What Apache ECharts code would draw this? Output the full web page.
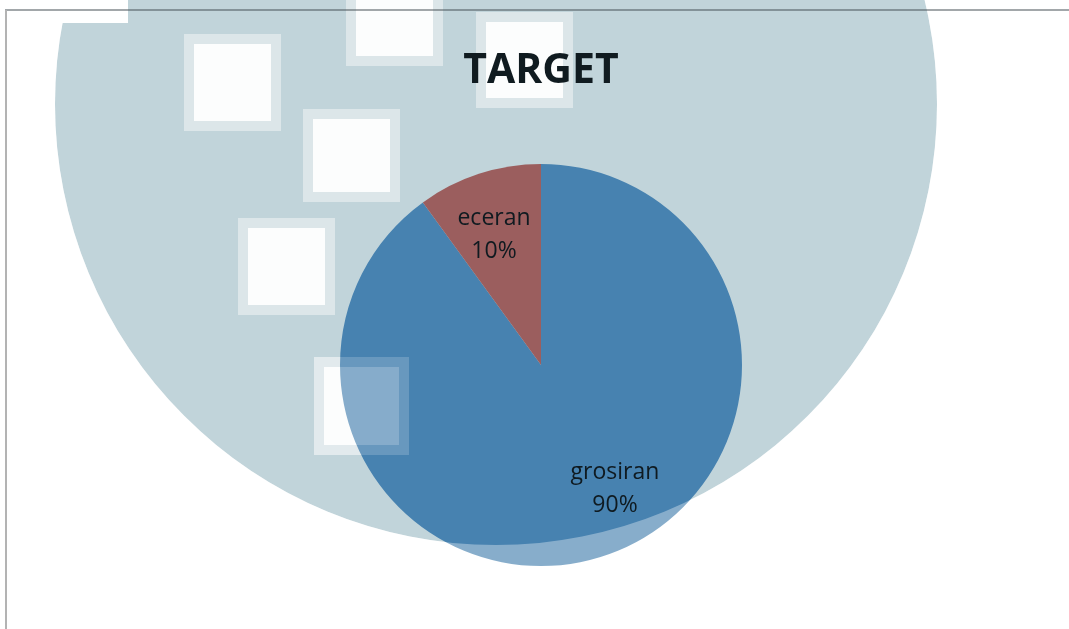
<!DOCTYPE html>
<html lang="en">
<head>
	<meta charset="UTF-8">
	<title>TARGET</title>
	<style>
		html, body { margin: 0; padding: 0; background: #fff; }
	</style>
</head>
<body>
	<div id="pie_one" style="width:1069px;height:629px;"></div>
</body>
</html>
<script src="https://cdn.jsdelivr.net/npm/echarts@6/dist/echarts.min.js"></script>
<script>
	// data
	var names = ['grosiran', 'eceran'];
	var values = [90, 10];
	var colors = ['#4782b0', '#9b5e5e'];
	// label nudge, to sit the labels where the original had them
	var labelShift = [[42, 26], [-15, -32]];

	// watermark squares: x, y, w, h
	var squares = [
		[184, 34, 97, 97],
		[303, 109, 97, 93],
		[238, 218, 97, 97],
		[346, -10, 97, 76],
		[476, 12, 97, 96],
		[314, 357, 95, 98]
	];

	function watermark(){
		var els = [];
		els.push({ type: 'circle', z: 0, silent: true,
			shape: { cx: 496, cy: 104, r: 441 }, style: { fill: '#c1d4da' } });
		els.push({ type: 'rect', z: 0, silent: true,
			shape: { x: 40, y: 0, width: 88, height: 23 }, style: { fill: '#ffffff' } });
		for (var i = 0; i < squares.length; i++) {
			var s = squares[i];
			els.push({ type: 'rect', z: 0, silent: true,
				shape: { x: s[0], y: s[1], width: s[2], height: s[3] }, style: { fill: '#dce6e9' } });
			els.push({ type: 'rect', z: 0, silent: true,
				shape: { x: s[0] + 10, y: s[1] + 10, width: s[2] - 20, height: s[3] - 20 }, style: { fill: '#fcfdfd' } });
		}
		// lighten layer over the pie (outside the big circle, and the last square)
		els.push({ type: 'ring', z: 20, silent: true,
			shape: { cx: 496, cy: 104, r: 1600, r0: 441 }, style: { fill: 'rgba(255,255,255,0.35)' } });
		var f = squares[5];
		els.push({ type: 'rect', z: 20, silent: true,
			shape: { x: f[0], y: f[1], width: f[2], height: f[3] }, style: { fill: 'rgba(255,255,255,0.18)' } });
		els.push({ type: 'rect', z: 20, silent: true,
			shape: { x: f[0] + 10, y: f[1] + 10, width: f[2] - 20, height: f[3] - 20 }, style: { fill: 'rgba(255,255,255,0.2)' } });
		// chart frame
		els.push({ type: 'line', z: 30, silent: true,
			shape: { x1: 5, y1: 10, x2: 1069, y2: 10 }, style: { stroke: 'rgba(70,80,85,0.5)', lineWidth: 2 } });
		els.push({ type: 'line', z: 30, silent: true,
			shape: { x1: 6, y1: 10, x2: 6, y2: 629 }, style: { stroke: '#b3b3b3', lineWidth: 2 } });
		return els;
	}

	var pieData = [];
	for (var i = 0; i < names.length; i++) {
		pieData.push({ name: names[i], value: values[i], itemStyle: { color: colors[i] } });
	}

	var myChart = echarts.init(document.getElementById('pie_one'));
	var option = {
		animation: false,
		backgroundColor: '#ffffff',
		title: {
			text: 'TARGET',
			left: 536,
			top: 46,
			textAlign: 'center',
			textStyle: {
				fontFamily: 'Open Sans',
				fontWeight: 'bold',
				fontSize: 41,
				color: '#101b20'
			}
		},
		graphic: { elements: watermark() },
		series: [{
			type: 'pie',
			center: [541, 365],
			radius: 201,
			startAngle: 90,
			clockwise: true,
			data: pieData,
			itemStyle: { borderWidth: 0 },
			label: {
				show: true,
				position: 'inside',
				formatter: '{b}\n{d}%',
				fontFamily: 'Open Sans',
				fontSize: 23,
				lineHeight: 33,
				color: '#0f1a20'
			},
			labelLine: { show: false },
			labelLayout: function (params) {
				var d = labelShift[params.dataIndex];
				return { dx: d[0], dy: d[1] };
			}
		}]
	};
	myChart.setOption(option);
</script>
